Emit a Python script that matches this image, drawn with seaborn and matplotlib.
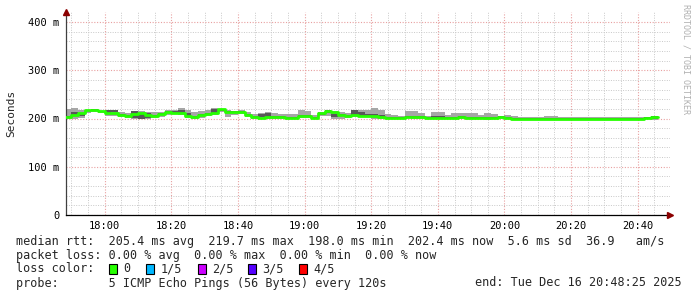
import matplotlib
matplotlib.use("Agg")
import matplotlib.pyplot as plt
import matplotlib.dates as mdates
from matplotlib.patches import Rectangle
import pandas as pd
import seaborn as sns

# ---- data (ms), one value per 2-minute step starting 17:48 ----
median_ms = [204, 207, 212, 217, 218, 215, 212, 211, 207, 206, 209, 211, 207, 206, 210, 214, 212, 211, 206, 204,
             207, 209, 212, 219, 214, 214, 213, 207, 204, 202, 204, 203, 203, 202, 202, 206, 205, 202, 211, 216,
             213, 207, 206, 207, 206, 206, 205, 204, 202, 202, 202, 204, 203, 203, 202, 202, 202, 202, 202, 203,
             202, 201, 201, 202, 202, 203, 202, 200, 199, 199, 199, 199, 199, 200, 200, 200, 200, 200, 200, 200,
             200, 199, 199, 199, 199, 199, 199, 201, 203]
max_ms = [219, 222, 218, 218, 219, 216, 218, 218, 214, 212, 216, 216, 214, 214, 214, 218, 218, 221, 218, 214,
          216, 217, 221, 219, 218, 216, 218, 214, 209, 212, 214, 211, 209, 209, 209, 217, 216, 207, 214, 217,
          216, 214, 211, 217, 218, 217, 222, 217, 209, 207, 206, 216, 216, 211, 206, 214, 214, 207, 211, 211,
          211, 211, 207, 212, 210, 206, 207, 205, 203, 203, 203, 203, 206, 206, 204, 204, 204, 204, 204, 204,
          204, 204, 204, 204, 204, 204, 204, 203, 206]
min_ms = [200, 200, 201, 211, 213, 212, 206, 206, 204, 202, 200, 198, 200, 202, 204, 207, 209, 207, 202, 199,
          202, 206, 207, 214, 204, 207, 209, 204, 200, 199, 200, 200, 199, 199, 198, 202, 202, 199, 206, 206,
          199, 199, 202, 204, 204, 204, 200, 199, 200, 199, 198, 202, 199, 198, 199, 198, 199, 199, 200, 200,
          199, 199, 198, 197, 199, 199, 199, 198, 197, 197, 197, 197, 198, 198, 197, 197, 197, 197, 197, 197,
          197, 197, 197, 197, 197, 197, 197, 198, 196]
inner_hi_ms = [206, 214, 212, 218, 219, 216, 217, 217, 209, 208, 215, 212, 211, 208, 211, 216, 216, 218, 212, 206,
               209, 211, 219, 219, 216, 215, 215, 209, 206, 209, 212, 205, 205, 204, 204, 208, 207, 204, 212, 217,
               209, 209, 208, 217, 214, 210, 209, 207, 204, 204, 204, 206, 205, 205, 204, 205, 205, 204, 204, 205,
               204, 203, 203, 204, 204, 205, 204, 202, 201, 201, 201, 201, 201, 201, 201, 201, 201, 201, 201, 201,
               201, 201, 201, 201, 201, 201, 201, 203, 205]
inner_lo_ms = [202, 205, 206, 215, 216, 213, 210, 214, 206, 204, 202, 200, 202, 204, 207, 212, 210, 210, 204, 202,
               205, 207, 212, 216, 211, 212, 211, 205, 202, 204, 204, 201, 201, 200, 200, 204, 203, 200, 208, 212,
               204, 205, 204, 207, 206, 204, 204, 202, 201, 200, 200, 202, 201, 201, 200, 200, 200, 200, 200, 201,
               200, 200, 199, 199, 200, 201, 200, 199, 198, 198, 198, 198, 198, 198, 198, 198, 198, 198, 198, 198,
               198, 198, 198, 198, 198, 198, 198, 199, 199]

start_time = "2025-12-16 17:48"
view_start = "2025-12-16 17:48:25"
view_end = "2025-12-16 20:49:40"
y_ticks = [0, 100, 200, 300, 400]
y_tick_labels = ["0", "100 m", "200 m", "300 m", "400 m"]

legend_lines = [
    "median rtt:  205.4 ms avg  219.7 ms max  198.0 ms min  202.4 ms now  5.6 ms sd  36.9   am/s",
    "packet loss: 0.00 % avg  0.00 % max  0.00 % min  0.00 % now",
    "loss color:",
    "probe:       5 ICMP Echo Pings (56 Bytes) every 120s",
]
loss_labels = ["0", "1/5", "2/5", "3/5", "4/5"]
loss_colors = ["#26ff00", "#00b8ff", "#cc00ff", "#5500ff", "#ff0000"]
end_text = "end: Tue Dec 16 20:48:25 2025"

# ---- build ----
sns.set_style("white")
plt.rcParams["font.family"] = ["DejaVu Sans Mono"]

W, H = 697, 297
fig = plt.figure(figsize=(W / 100, H / 100), dpi=100)
fig.patch.set_facecolor("white")
left, right, bottom_px, top_px = 66, 670, 215, 12.35
ax = fig.add_axes([left / W, 1 - bottom_px / H, (right - left) / W, (bottom_px - top_px) / H])

edges = pd.date_range(start_time, periods=len(median_ms) + 1, freq="2min")
def ext(a):
    return list(a) + [a[-1]]

ax.fill_between(edges, ext(min_ms), ext(max_ms), step="post", color="#a6a6a6", lw=0, zorder=2)
ax.fill_between(edges, ext(inner_lo_ms), ext(inner_hi_ms), step="post", color="#585858", lw=0, zorder=3)
df = pd.DataFrame({"t": edges, "v": ext(median_ms)})
sns.lineplot(data=df, x="t", y="v", drawstyle="steps-post", color="#26ff00", lw=2.0,
             estimator=None, ax=ax, zorder=4)

ax.set_xlim(pd.Timestamp(view_start), pd.Timestamp(view_end))
ax.set_ylim(0, 420)
ax.set_xlabel("")
ax.set_ylabel("")

ax.xaxis.set_major_locator(mdates.MinuteLocator(byminute=[0, 20, 40]))
ax.xaxis.set_minor_locator(mdates.MinuteLocator(byminute=range(0, 60, 5)))
ax.xaxis.set_major_formatter(mdates.DateFormatter("%H:%M"))
ax.set_yticks(y_ticks)
ax.set_yticklabels(y_tick_labels)
ax.set_yticks(range(0, 420, 20), minor=True)

ax.set_axisbelow(True)
ax.grid(which="minor", color="#c8c8c8", linestyle=(0, (1, 1.5)), lw=0.7)
ax.grid(which="major", color="#e8a0a0", linestyle=(0, (1, 1.5)), lw=0.8)

for s in ["top", "right"]:
    ax.spines[s].set_visible(False)
ax.spines["left"].set_color("#404040")
ax.spines["bottom"].set_color("#000000")
ax.spines["left"].set_linewidth(0.9)
ax.spines["bottom"].set_linewidth(0.9)
ax.tick_params(which="both", direction="out", length=2, width=0.7, color="#404040",
               labelsize=7.5, pad=2.5, labelcolor="#000000")
ax.plot([0], [1], marker="^", color="#8b0000", ms=4, transform=ax.transAxes, clip_on=False, zorder=6)
ax.plot([1], [0], marker=">", color="#8b0000", ms=4, transform=ax.transAxes, clip_on=False, zorder=6)

def ftext(x, y, s, **kw):
    fig.text(x / W, 1 - y / H, s, **kw)

ftext(11, 113, "Seconds", rotation=90, ha="center", va="center", fontsize=8)
ftext(686, 4, "RRDTOOL / TOBI OETIKER", rotation=270, ha="center", va="top", fontsize=6, color="#b0b0b0")

line_y = [241, 255, 269, 283]
for s, y in zip(legend_lines, line_y):
    ftext(16, y, s, ha="left", va="center", fontsize=8.5)
ftext(682, 283, end_text, ha="right", va="center", fontsize=8.5)

sq_x = [108.5, 146, 197.5, 248, 299]
lab_x = [123.5, 160.5, 212, 262.5, 313.5]
for sx, lx, lab, col in zip(sq_x, lab_x, loss_labels, loss_colors):
    fig.add_artist(Rectangle((sx / W, 1 - 274 / H), 8 / W, 10 / H, transform=fig.transFigure,
                             facecolor=col, edgecolor="black", lw=0.8))
    ftext(lx, 269, lab, ha="left", va="center", fontsize=8.5)

fig.savefig("out.png", dpi=100, facecolor="white")
